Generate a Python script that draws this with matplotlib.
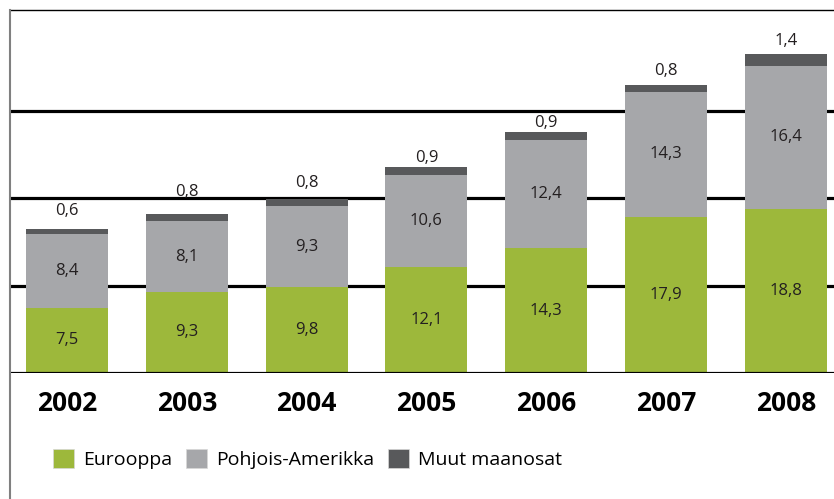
import matplotlib
matplotlib.use('Agg')
import matplotlib.pyplot as plt
from matplotlib.patches import Patch
from matplotlib.lines import Line2D
import numpy as np

plt.rcParams['font.family'] = ['Open Sans', 'DejaVu Sans']

vuodet = ['2002', '2003', '2004', '2005', '2006', '2007', '2008']
eurooppa = [7.5, 9.3, 9.8, 12.1, 14.3, 17.9, 18.8]
pohjois_amerikka = [8.4, 8.1, 9.3, 10.6, 12.4, 14.3, 16.4]
muut = [0.6, 0.8, 0.8, 0.9, 0.9, 0.8, 1.4]
sarjat = ['Eurooppa', 'Pohjois-Amerikka', 'Muut maanosat']

c_eur = '#9db83b'
c_pa = '#a6a7aa'
c_muut = '#58595b'

# how far (points) the top label sits above each bar, dodging the gridlines
top_pad = [7, 10, 6, 1, 1, 4, 3]

fig = plt.figure(figsize=(8.34, 4.99), dpi=100)
ax = fig.add_axes([10/834, 126/499, 824/834, 363/499])

x = np.arange(len(vuodet))
w = 0.684
eur = np.array(eurooppa)
pa = np.array(pohjois_amerikka)
mu = np.array(muut)

# gridlines behind bars
for g in [10, 20, 30]:
    ax.axhline(g, color='black', lw=2.3, zorder=1)
ax.axhline(0, color='black', lw=2.3, zorder=3)

ax.bar(x, eur, w, color=c_eur, zorder=2)
ax.bar(x, pa, w, bottom=eur, color=c_pa, zorder=2)
ax.bar(x, mu, w, bottom=eur + pa, color=c_muut, zorder=2)

def fi(v):
    return ('%.1f' % v).replace('.', ',')

for i in range(len(x)):
    ax.text(x[i], eur[i] / 2, fi(eur[i]), ha='center', va='center', fontsize=12, color='#231f20', zorder=4)
    ax.text(x[i], eur[i] + pa[i] / 2, fi(pa[i]), ha='center', va='center', fontsize=12, color='#231f20', zorder=4)
    ax.annotate(fi(mu[i]), (x[i], eur[i] + pa[i] + mu[i]), xytext=(0, top_pad[i]),
                textcoords='offset points', ha='center', va='bottom', fontsize=12,
                color='#231f20', zorder=4)

ax.set_xlim(-0.476, 6.402)
ax.set_ylim(0, 41.6)
ax.set_yticks([])
ax.set_xticks(x)
ax.set_xticklabels(vuodet, fontsize=19, fontweight='bold')
ax.tick_params(axis='x', length=0, pad=12)
for s in ax.spines.values():
    s.set_visible(False)

# frame lines: thin top line and grey left rule
fig.add_artist(Line2D([10/834, 1], [489/499, 489/499], color='black', lw=1))
fig.add_artist(Line2D([10/834, 10/834], [0, 489/499], color='#808080', lw=1.5))

handles = [Patch(facecolor=c_eur, edgecolor='#d8d8d8', lw=0.5),
           Patch(facecolor=c_pa, edgecolor='#d8d8d8', lw=0.5),
           Patch(facecolor=c_muut, edgecolor='#d8d8d8', lw=0.5)]
fig.legend(handles, sarjat, loc='center left', bbox_to_anchor=(43/834, 1 - 459/499),
           ncol=3, frameon=False, fontsize=14, handlelength=1.08, handleheight=1.08,
           handletextpad=0.46, columnspacing=0.72, borderpad=0)

fig.savefig('out.png', dpi=100)
